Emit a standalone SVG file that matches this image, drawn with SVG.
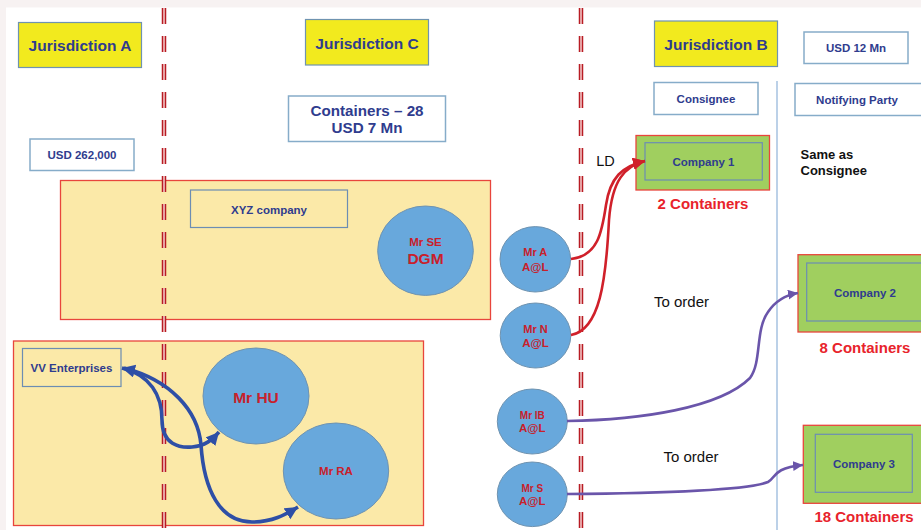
<svg xmlns="http://www.w3.org/2000/svg" width="921" height="530" viewBox="0 0 921 530">
  <style>
    text { font-family: "Liberation Sans", Arial, sans-serif; text-anchor: middle; }
    .b { font-weight: bold; }
    .navy { fill: #2f3c8e; }
    .red { fill: #c8202b; }
    .bright { fill: #e8232b; }
    .blk { fill: #111111; }
    .jur { fill: #f2ea1e; stroke: #6f93b0; stroke-width: 1.2; }
    .box { fill: #ffffff; stroke: #86acc9; stroke-width: 1.5; }
    .group { fill: #fbe9a8; stroke: #e8453c; stroke-width: 1.3; }
    .inner { fill: none; stroke: #6c8db3; stroke-width: 1.2; }
    .co { fill: #a0cf5f; stroke: #e8453c; stroke-width: 1.3; }
    .person { fill: #68a8dc; stroke: #6f93b0; stroke-width: 1; }
    .border-out { stroke: #b81c24; stroke-width: 4.5; stroke-dasharray: 16 12; fill: none; }
    .border-in { stroke: #f2c4c4; stroke-width: 1.6; stroke-dasharray: 16 12; fill: none; }
    .red-flow { fill: none; stroke: #d0202a; stroke-width: 2.6; }
    .purple-flow { fill: none; stroke: #6a55aa; stroke-width: 2.6; }
    .blue-flow { fill: none; stroke: #2e4fa6; stroke-width: 3.6; }
  </style>
  <defs>
    <marker id="arrRed" markerUnits="userSpaceOnUse" markerWidth="14" markerHeight="14" refX="12" refY="6" orient="auto">
      <path d="M0,0 L12,6 L0,12 Z" fill="#d0202a"/>
    </marker>
    <marker id="arrPurple" markerUnits="userSpaceOnUse" markerWidth="12" markerHeight="12" refX="10" refY="5" orient="auto">
      <path d="M0,0 L10,5 L0,10 Z" fill="#6a55aa"/>
    </marker>
    <marker id="arrBlue" markerUnits="userSpaceOnUse" markerWidth="16" markerHeight="16" refX="13" refY="6.5" orient="auto-start-reverse">
      <path d="M0,0 L13,6.5 L0,13 Z" fill="#2e4fa6"/>
    </marker>
  </defs>

  <!-- page -->
  <rect x="0" y="0" width="921" height="530" fill="#f7f2f2"/>
  <rect x="6" y="7.5" width="915" height="522.5" fill="#ffffff"/>

  <!-- company group backgrounds -->
  <rect class="group" x="60.5" y="180.5" width="430" height="139"/>
  <rect class="group" x="13.5" y="341" width="410" height="184.5"/>

  <!-- jurisdiction borders -->
  <g id="borders">
    <line class="border-out" x1="164" y1="8" x2="164" y2="530"/>
    <line class="border-in" x1="164" y1="8" x2="164" y2="530"/>
    <line class="border-out" x1="581" y1="8" x2="581" y2="530"/>
    <line class="border-in" x1="581" y1="8" x2="581" y2="530"/>
    <line x1="777" y1="81" x2="777" y2="530" stroke="#8fb3d9" stroke-width="1.2"/>
  </g>

  <!-- headers -->
  <g id="jurA">
    <rect class="jur" x="18.5" y="22.5" width="123" height="45"/>
    <text class="b navy" x="80" y="51" font-size="15.5">Jurisdiction A</text>
  </g>
  <g id="jurC">
    <rect class="jur" x="305.5" y="19.5" width="123" height="45.5"/>
    <text class="b navy" x="367" y="49.3" font-size="15.5">Jurisdiction C</text>
  </g>
  <g id="jurB">
    <rect class="jur" x="654.5" y="21" width="123" height="45.5"/>
    <text class="b navy" x="716" y="50" font-size="15.5">Jurisdiction B</text>
  </g>

  <g id="containers">
    <rect class="box" x="288.5" y="96" width="157" height="45.5"/>
    <text class="b navy" x="367" y="115.7" font-size="15.2">Containers – 28</text>
    <text class="b navy" x="367" y="133.3" font-size="15.2">USD 7 Mn</text>
  </g>
  <g id="usdA">
    <rect class="box" x="30" y="139" width="104" height="31.5"/>
    <text class="b navy" x="82" y="159.3" font-size="11.5">USD 262,000</text>
  </g>
  <g id="usdB">
    <rect class="box" x="804" y="32" width="104" height="31.5"/>
    <text class="b navy" x="856" y="52" font-size="11.5">USD 12 Mn</text>
  </g>
  <g id="consignee">
    <rect class="box" x="654" y="82.5" width="104" height="32"/>
    <text class="b navy" x="706" y="102.7" font-size="11.5">Consignee</text>
  </g>
  <g id="notifying">
    <rect class="box" x="795" y="83.5" width="130" height="32"/>
    <text class="b navy" x="857" y="104" font-size="11.5">Notifying Party</text>
  </g>

  <!-- XYZ company -->
  <g id="xyz">
    <rect class="inner" x="190.5" y="190" width="157" height="37.5"/>
    <text class="b navy" x="269" y="214" font-size="11.5">XYZ company</text>
  </g>
  <g id="mrSE">
    <ellipse class="person" cx="425.5" cy="250.7" rx="47.8" ry="44.7"/>
    <text class="b red" x="425.5" y="245.7" font-size="11.5">Mr SE</text>
    <text class="b red" x="425.5" y="264" font-size="15.5">DGM</text>
  </g>

  <!-- VV Enterprises -->
  <g id="vv">
    <rect class="inner" x="22.5" y="348.5" width="98.5" height="38"/>
    <text class="b navy" x="71.5" y="372" font-size="11.5">VV Enterprises</text>
  </g>
  <g id="mrHU">
    <ellipse class="person" cx="256" cy="396" rx="53" ry="48"/>
    <text class="b red" x="256" y="403.3" font-size="15.5">Mr HU</text>
  </g>
  <g id="mrRA">
    <ellipse class="person" cx="336" cy="471" rx="52.7" ry="48"/>
    <text class="b red" x="336" y="475" font-size="11.5">Mr RA</text>
  </g>

  <!-- shippers -->
  <g id="mrA">
    <ellipse class="person" cx="535.3" cy="259.3" rx="35.3" ry="32.7"/>
    <text class="b red" x="535.3" y="256" font-size="11">Mr A</text>
    <text class="b red" x="535.3" y="270.7" font-size="11.5">A@L</text>
  </g>
  <g id="mrN">
    <ellipse class="person" cx="535.5" cy="335.5" rx="35.3" ry="32.5"/>
    <text class="b red" x="535.5" y="333.3" font-size="11">Mr N</text>
    <text class="b red" x="535.5" y="346.5" font-size="11.5">A@L</text>
  </g>
  <g id="mrIB">
    <ellipse class="person" cx="532.3" cy="421.5" rx="35" ry="32.5"/>
    <text class="b red" x="532.3" y="419" font-size="10">Mr IB</text>
    <text class="b red" x="532.3" y="431.7" font-size="11.5">A@L</text>
  </g>
  <g id="mrS">
    <ellipse class="person" cx="532.3" cy="494.3" rx="35" ry="32.3"/>
    <text class="b red" x="532.3" y="491.7" font-size="10">Mr S</text>
    <text class="b red" x="532.3" y="505" font-size="11.5">A@L</text>
  </g>

  <!-- consignees -->
  <g id="company1">
    <rect class="co" x="636" y="135.5" width="133.5" height="54.5"/>
    <rect class="inner" x="645" y="142.7" width="117.3" height="37.3"/>
    <text class="b navy" x="703.5" y="166" font-size="11.5">Company 1</text>
    <text class="b bright" x="703" y="209.3" font-size="15">2 Containers</text>
  </g>
  <g id="company2">
    <rect class="co" x="798" y="254.7" width="130" height="77.3"/>
    <rect class="inner" x="806.7" y="263" width="120" height="58"/>
    <text class="b navy" x="865" y="296.7" font-size="11.5">Company 2</text>
    <text class="b bright" x="865" y="352.7" font-size="15">8 Containers</text>
  </g>
  <g id="company3">
    <rect class="co" x="803.3" y="425.3" width="120" height="78"/>
    <rect class="inner" x="815.3" y="434.3" width="97" height="58"/>
    <text class="b navy" x="864" y="468" font-size="11.5">Company 3</text>
    <text class="b bright" x="864" y="521.7" font-size="15">18 Containers</text>
  </g>

  <!-- labels -->
  <g id="labels">
    <text class="blk" x="605.5" y="166" font-size="14.5">LD</text>
    <text class="blk" x="681.5" y="307.3" font-size="15">To order</text>
    <text class="blk" x="691" y="461.7" font-size="15">To order</text>
    <text class="b blk" x="800.5" y="159.3" font-size="13" style="text-anchor:start">Same as</text>
    <text class="b blk" x="800.5" y="175" font-size="13" style="text-anchor:start">Consignee</text>
  </g>

  <!-- connectors -->
  <g id="connectors">
    <path class="red-flow" d="M571,259 C598,256 602,232 606,205 C610,178 622,166 645,161" marker-end="url(#arrRed)"/>
    <path class="red-flow" d="M571,335 C600,330 606,280 609,220 C612,180 625,166 645,161" marker-end="url(#arrRed)"/>
    <path class="purple-flow" d="M567,421 C640,420 720,408 750,378 C762,362 755,330 768,312 C776,300 786,295 798,293" marker-end="url(#arrPurple)"/>
    <path class="purple-flow" d="M567,494 C680,493 750,489 768,482 C776,478 772,468 803,465" marker-end="url(#arrPurple)"/>
    <path class="blue-flow" d="M122,368 C150,375 162,395 162,420 C162,445 180,448 192,447 C205,446 212,440 219,432" marker-start="url(#arrBlue)" marker-end="url(#arrBlue)"/>
    <path class="blue-flow" d="M124,368 C170,380 198,410 201,445 C204,490 220,522 252,522 C272,522 285,515 298,507" marker-end="url(#arrBlue)"/>
  </g>
</svg>
